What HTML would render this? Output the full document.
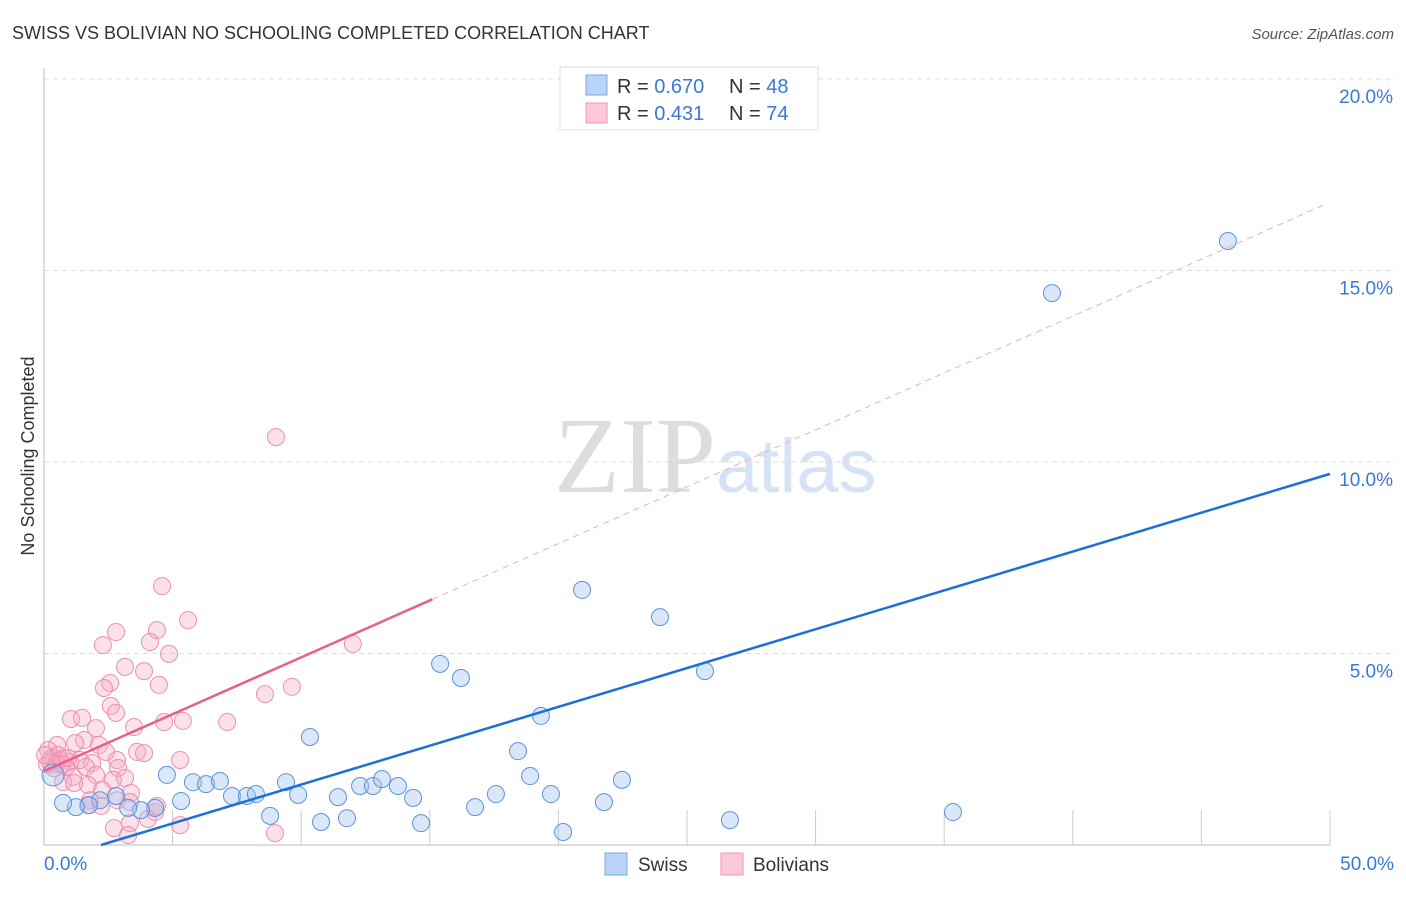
<!DOCTYPE html>
<html><head><meta charset="utf-8"><style>
body{margin:0;background:#fff;font-family:"Liberation Sans",sans-serif}
</style></head><body>
<svg width="1406" height="892" xmlns="http://www.w3.org/2000/svg">
<text x="12" y="39" font-size="18" fill="#333">SWISS VS BOLIVIAN NO SCHOOLING COMPLETED CORRELATION CHART</text>
<text x="1394" y="39" font-size="15" fill="#555" font-style="italic" text-anchor="end">Source: ZipAtlas.com</text>
<text x="716" y="492" font-size="108" font-family="Liberation Serif" fill="#ddd" text-anchor="end">ZIP</text>
<text x="716" y="492" font-size="76" fill="#d5e3f5">atlas</text>
<g id="grid"></g>
<g id="marks"></g>
<text transform="translate(34,456) rotate(-90)" font-size="18" fill="#333" text-anchor="middle">No Schooling Completed</text>
<g>
<rect x="560" y="67" width="258" height="63" fill="#fff" stroke="#ddd"/>
<rect x="586" y="75" width="21" height="20" fill="#b8d3f5" stroke="#7aa7e3"/>
<rect x="586" y="103" width="21" height="20" fill="#fcc8d7" stroke="#ee99b2"/>
<text x="617" y="93" font-size="20" fill="#333">R = <tspan fill="#3a78d6">0.670</tspan></text>
<text x="729" y="93" font-size="20" fill="#333">N = <tspan fill="#3a78d6">48</tspan></text>
<text x="617" y="120" font-size="20" fill="#333">R =  <tspan fill="#3a78d6">0.431</tspan></text>
<text x="729" y="120" font-size="20" fill="#333">N = <tspan fill="#3a78d6">74</tspan></text>
</g>
<g>
<rect x="605" y="853" width="22" height="22" fill="#b8d3f5" stroke="#7aa7e3"/>
<text x="638" y="871" font-size="19" fill="#333">Swiss</text>
<rect x="721" y="853" width="22" height="22" fill="#fcc8d7" stroke="#ee99b2"/>
<text x="753" y="871" font-size="19" fill="#333">Bolivians</text>
</g>
</svg>
<script>
const yTicks=[5,10,15,20];
const xTickVals=[5,10,15,20,25,30,35,40,45,50];
const swissX=[46.03,39.19,20.92,23.95,25.70,15.40,16.21,19.32,10.34,18.43,18.90,22.47,4.78,5.79,6.30,6.84,7.31,7.89,8.24,9.41,9.88,11.43,12.29,12.79,13.14,13.76,14.35,17.57,19.71,16.76,21.77,5.33,4.32,3.77,3.27,2.80,2.18,1.75,1.24,0.74,8.79,10.77,11.78,14.66,20.18,26.67,35.34,0.35];
const swissY=[15.77,14.41,6.66,5.95,4.54,4.73,4.36,3.37,2.82,2.45,1.80,1.70,1.83,1.64,1.59,1.67,1.28,1.28,1.33,1.64,1.31,1.25,1.54,1.54,1.72,1.54,1.23,1.33,1.33,0.99,1.12,1.15,0.97,0.91,0.97,1.28,1.17,1.04,0.99,1.10,0.76,0.60,0.70,0.57,0.34,0.65,0.86,1.83];
const bolPx=[[276,437],[162,586],[188,620],[116,632],[157,630],[103,645],[150,642],[353,644],[169,654],[125,667],[144,671],[110,683],[104,688],[159,685],[265,694],[292,687],[111,706],[116,713],[71,719],[82,718],[134,727],[96,728],[164,722],[183,721],[227,722],[84,740],[75,743],[99,745],[137,752],[144,753],[106,752],[180,760],[117,760],[57,745],[48,750],[60,760],[70,762],[80,760],[92,763],[54,768],[47,764],[66,767],[86,767],[118,768],[96,775],[73,777],[125,778],[113,780],[63,782],[88,785],[102,790],[74,783],[131,793],[90,800],[117,800],[88,805],[101,806],[130,802],[155,812],[157,806],[130,823],[114,828],[148,819],[180,825],[275,833],[128,835],[52,758],[58,755],[64,758],[50,762],[56,764],[45,755],[62,764],[68,758]];
const bolX=bolPx.map(p=>+((p[0]-44)/25.72).toFixed(2));
const bolY=bolPx.map(p=>+((845-p[1])/38.3).toFixed(2));
const swissFit=[-0.45,0.2028];
const bolFit=[1.93,0.297];
const X=v=>44+v*25.72, Y=v=>845-v*38.3;
const NS="http://www.w3.org/2000/svg";
function mk(t,a,p){const e=document.createElementNS(NS,t);for(const k in a)e.setAttribute(k,a[k]);p.appendChild(e);return e;}
const grid=document.getElementById('grid'),marks=document.getElementById('marks');
yTicks.forEach(v=>{
 const l=mk('line',{x1:44,x2:1395,y1:Y(v),y2:Y(v),stroke:'#ddd','stroke-dasharray':'5,4'},grid);
 
 
 const t=mk('text',{x:1393,y:Y(v)+24,'font-size':19,fill:'#3a78d6','text-anchor':'end'},grid);t.textContent=v.toFixed(1)+'%';
 
 
});
const ax=mk('line',{x1:44,x2:44,y1:68,y2:845,stroke:'#bbb'},grid);


const bx=mk('line',{x1:44,x2:1330,y1:845,y2:845,stroke:'#bbb'},grid);


xTickVals.forEach(v=>{const l=mk('line',{x1:X(v),x2:X(v),y1:810,y2:845,stroke:'#ccc'},grid);
 
 });
[[0,'0.0%',44,'start'],[50,'50.0%',1394,'end']].forEach(d=>{const t=mk('text',{x:d[2],y:870,'font-size':19,fill:'#3a78d6','text-anchor':d[3]},grid);t.textContent=d[1];
 
 });
bolX.forEach((x,i)=>{const c=mk('circle',{cx:X(x),cy:Y(bolY[i]),r:8.5,fill:'rgba(248,170,195,0.35)',stroke:'#ec8fae','stroke-width':1},marks);
 
 });
swissX.forEach((x,i)=>{const c=mk('circle',{cx:X(x),cy:Y(swissY[i]),r:i==47?11:8.5,fill:'rgba(160,196,240,0.4)',stroke:'#5b93dc','stroke-width':1},marks);
 
 });
const sx0=(0-swissFit[0])/swissFit[1];
const sl=mk('line',{x1:X(sx0),y1:Y(0),x2:X(50),y2:Y(swissFit[0]+swissFit[1]*50),stroke:'#1f6fd8','stroke-width':2.5},marks);


const bl=mk('line',{x1:X(0),y1:Y(bolFit[0]),x2:X(15.1),y2:Y(bolFit[0]+bolFit[1]*15.1),stroke:'#e8608a','stroke-width':2.5},marks);


const bd=mk('line',{x1:X(15.1),y1:Y(bolFit[0]+bolFit[1]*15.1),x2:X(49.8),y2:Y(bolFit[0]+bolFit[1]*49.8),stroke:'#eeaac0','stroke-width':1,'stroke-dasharray':'6,5'},marks);


</script>
</body></html>
